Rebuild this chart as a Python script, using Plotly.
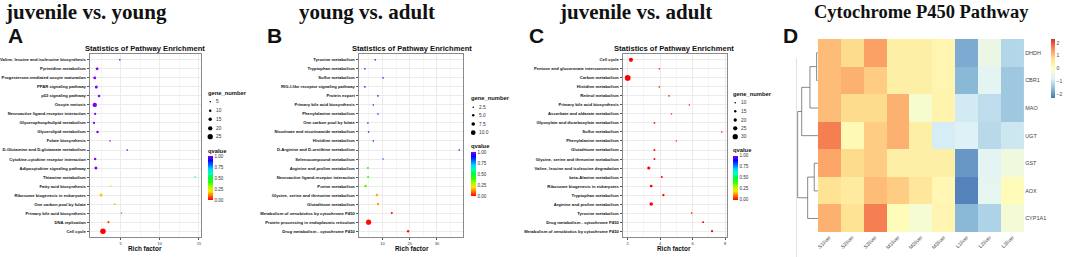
import colorsys
import plotly.graph_objects as go

W, H = 1065, 257

# ---------------- Panel A: juvenile vs. young ----------------
a_terms = ["Valine, leucine and isoleucine biosynthesis", "Pyrimidine metabolism",
           "Progesterone-mediated oocyte maturation", "PPAR signaling pathway", "p53 signaling pathway",
           "Oocyte meiosis", "Neuroactive ligand-receptor interaction", "Glycerophospholipid metabolism",
           "Glycerolipid metabolism", "Folate biosynthesis", "D-Glutamine and D-glutamate metabolism",
           "Cytokine-cytokine receptor interaction", "Adipocytokine signaling pathway", "Thiamine metabolism",
           "Fatty acid biosynthesis", "Ribosome biogenesis in eukaryotes", "One carbon pool by folate",
           "Primary bile acid biosynthesis", "DNA replication", "Cell cycle"]
a_rich = [4.9, 2.0, 1.7, 1.9, 2.25, 1.7, 1.75, 1.6, 2.05, 3.65, 5.85, 1.75, 1.85, 14.5, 3.75, 2.5, 4.25, 5.1, 3.45, 2.75]
a_genes = [2, 12, 12, 13, 10, 20, 9, 9, 10, 3, 2, 10, 13, 2, 4, 13, 5, 3, 8, 26]
a_q = [0.97, 1.0, 1.0, 1.0, 1.0, 1.0, 1.0, 1.0, 1.0, 0.98, 0.95, 1.0, 1.0, 0.62, 0.3, 0.17, 0.14, 0.1, 0.06, 0.0]
a_size_legend = [5, 10, 15, 20, 25]

# ---------------- Panel B: young vs. adult ----------------
b_terms = ["Tyrosine metabolism", "Tryptophan metabolism", "Sulfur metabolism",
           "RIG-I-like receptor signaling pathway", "Protein export", "Primary bile acid biosynthesis",
           "Phenylalanine metabolism", "One carbon pool by folate", "Nicotinate and nicotinamide metabolism",
           "Histidine metabolism", "D-Arginine and D-ornithine metabolism", "Selenocompound metabolism",
           "Arginine and proline metabolism", "Neuroactive ligand-receptor interaction", "Purine metabolism",
           "Glycine, serine and threonine metabolism", "Glutathione metabolism",
           "Metabolism of xenobiotics by cytochrome P450", "Protein processing in endoplasmic reticulum",
           "Drug metabolism - cytochrome P450"]
b_rich = [7.3, 3.5, 10.2, 3.5, 8.3, 6.6, 8.3, 4.6, 4.85, 6.6, 38.2, 10.2, 4.6, 4.7, 3.75, 7.9, 8.3, 13.4, 4.85, 19.4]
b_genes = [2, 2, 1, 2, 3, 1, 3, 1, 2, 2, 1, 1, 4, 4, 5, 5, 5, 4, 11, 5]
b_q = [0.95, 0.93, 0.85, 0.95, 0.95, 0.88, 0.95, 0.9, 0.92, 0.95, 0.95, 0.8, 0.42, 0.42, 0.38, 0.15, 0.15, 0.02, 0.01, 0.02]
b_size_legend = [2.5, 5.0, 7.5, 10.0]

# ---------------- Panel C: juvenile vs. adult ----------------
c_terms = ["Cell cycle", "Pentose and glucuronate interconversions", "Carbon metabolism",
           "Histidine metabolism", "Retinol metabolism", "Primary bile acid biosynthesis",
           "Ascorbate and aldarate metabolism", "Glyoxylate and dicarboxylate metabolism", "Sulfur metabolism",
           "Phenylalanine metabolism", "Glutathione metabolism", "Glycine, serine and threonine metabolism",
           "Valine, leucine and isoleucine degradation", "beta-Alanine metabolism",
           "Ribosome biogenesis in eukaryotes", "Tryptophan metabolism", "Arginine and proline metabolism",
           "Tyrosine metabolism", "Drug metabolism - cytochrome P450",
           "Metabolism of xenobiotics by cytochrome P450"]
c_rich = [2.2, 3.95, 2.0, 3.95, 4.55, 5.8, 4.7, 3.65, 7.8, 5.0, 3.65, 3.65, 3.3, 4.1, 3.45, 4.2, 3.45, 5.95, 6.65, 7.2]
c_genes = [24, 9, 32, 9, 9, 8, 8, 12, 7, 10, 13, 13, 19, 13, 17, 15, 21, 11, 13, 14]
c_q = [0.0, 0.03, 0.0, 0.03, 0.02, 0.04, 0.03, 0.02, 0.04, 0.03, 0.01, 0.01, 0.0, 0.01, 0.0, 0.0, 0.0, 0.01, 0.0, 0.0]
c_size_legend = [10, 15, 20, 25, 30]

q_ticks = [0.0, 0.25, 0.5, 0.75, 1.0]

# ---------------- Panel D: heatmap ----------------
hm_rows = ["DHDH", "CBR1", "MAO", "UGT", "GST", "AOX", "CYP1A1"]
hm_cols = ["S1liver", "S2liver", "S3liver", "M1liver", "M2liver", "M3liver", "L1liver", "L2liver", "L3liver"]
hm_vals = [
    [1.1, 0.8, 1.35, 0.4, 0.4, 0.25, -1.75, -0.5, -1.2],
    [1.1, 1.2, 0.95, 0.4, 0.4, 0.25, -1.6, -0.7, -1.4],
    [1.1, 0.8, 0.8, 1.2, -0.2, 0.3, -0.9, -1.1, -1.4],
    [1.65, 0.15, 0.95, 1.2, 0.4, -0.85, -0.8, -1.15, -0.95],
    [1.3, 0.8, 0.95, 0.4, 0.4, 0.4, -1.95, -0.7, -0.4],
    [0.7, 0.5, 1.1, 0.95, 0.6, 0.2, -2.15, -0.65, 0.1],
    [1.2, 0.7, 1.65, 0.1, -0.25, 0.25, -1.6, -1.25, -0.3],
]
hm_ticks = [-2, -1, 0, 1, 2]
# row dendrogram linkage (scipy style: leaves 0-6, merged clusters 7..)
row_linkage = [(0, 1, 1.3), (7, 2, 8.0), (8, 3, 16.3), (4, 5, 3.7), (10, 6, 10.3), (9, 11, 20.3)]

# ---------------- styles ----------------
SANS = "Liberation Sans"
SERIF = "Liberation Serif"
q_scale = []
for i in range(11):
    t = i / 10
    r, g, b = colorsys.hsv_to_rgb(t * 0.75, 1, 1)
    q_scale.append([t, f"rgb({int(r*255)},{int(g*255)},{int(b*255)})"])
hm_scale = [[i / 6, c] for i, c in enumerate(
    ["#4575B4", "#91BFDB", "#E0F3F8", "#FFFFBF", "#FEE090", "#FC8D59", "#D73027"])]


def px_x(p):
    return p / W


def px_y(p):
    return 1 - p / H


def sizer(v0, d0, v1, d1):
    def f(v):
        return max(1.6, d0 + (v - v0) * (d1 - d0) / (v1 - v0))
    return f


size_a = sizer(5, 1.5, 25, 5.3)
size_b = sizer(2.5, 1.4, 10, 4.7)
size_c = sizer(10, 1.4, 30, 5.3)

fig = go.Figure()

panels = [
    (a_terms, a_rich, a_genes, a_q, size_a, (87, 199), [1.05, 15.3], 5, "", "coloraxis"),
    (b_terms, b_rich, b_genes, b_q, size_b, (357, 462), [1.2, 39.7], 10, "2", "coloraxis2"),
    (c_terms, c_rich, c_genes, c_q, size_c, (622, 727), [1.69, 8.14], 2, "3", "coloraxis3"),
]

layout = dict(width=W, height=H, margin=dict(l=0, r=0, t=0, b=0),
              paper_bgcolor="white", plot_bgcolor="white", showlegend=False,
              font=dict(family=SANS, color="#111"))

for terms, rich, genes, q, sfn, (x0, x1), xr, dt, sfx, cax in panels:
    fig.add_trace(go.Scatter(
        x=rich, y=terms, mode="markers",
        marker=dict(size=[sfn(g) for g in genes], color=q, coloraxis=cax, line=dict(width=0), opacity=1),
        xaxis="x" + sfx, yaxis="y" + sfx, hoverinfo="skip"))
    layout["xaxis" + sfx] = dict(
        domain=[px_x(x0), px_x(x1)], range=xr, anchor="y" + sfx,
        tickmode="linear", tick0=0, dtick=dt,
        showgrid=True, gridcolor="#EBEBEB", gridwidth=0.7, zeroline=False,
        minor=dict(dtick=dt / 2, showgrid=True, gridcolor="#F5F5F5", gridwidth=0.5),
        showline=True, mirror=True, linecolor="#8A8A8A", linewidth=1,
        ticks="outside", ticklen=2, tickwidth=0.6, tickcolor="#555",
        tickfont=dict(size=4, color="#333", family=SANS))
    layout["yaxis" + sfx] = dict(
        domain=[px_y(237), px_y(54)], anchor="x" + sfx, type="category",
        categoryorder="array", categoryarray=terms[::-1], range=[-0.65, 19.65],
        showgrid=True, gridcolor="#EBEBEB", gridwidth=0.7, zeroline=False,
        showline=True, mirror=True, linecolor="#8A8A8A", linewidth=1,
        ticks="outside", ticklen=2, tickwidth=0.6, tickcolor="#555",
        tickfont=dict(size=4.2, color="#111", family=SANS, weight="bold"))

# colour axes for q-value colorbars
cb_pos = {"coloraxis": (205.5, 156, 44), "coloraxis2": (469.3, 152.3, 44), "coloraxis3": (732.7, 155.7, 44)}
for cax, (cx, cy, ln) in cb_pos.items():
    layout[cax] = dict(
        colorscale=q_scale, cmin=0, cmax=1,
        colorbar=dict(x=px_x(cx), xanchor="left", y=px_y(cy), yanchor="top",
                      len=ln, lenmode="pixels", thickness=4.5, thicknessmode="pixels",
                      xpad=0, ypad=0, outlinewidth=0, ticks="", ticklen=0,
                      tickvals=q_ticks, ticktext=[f"{t:.2f}" for t in q_ticks],
                      tickfont=dict(size=4.6, color="#333", family=SANS)))

# heatmap
fig.add_trace(go.Heatmap(z=hm_vals, x=hm_cols, y=hm_rows, coloraxis="coloraxis4",
                         xaxis="x4", yaxis="y4", hoverinfo="skip"))
layout["coloraxis4"] = dict(
    colorscale=hm_scale, cmin=-2.3, cmax=2.3,
    colorbar=dict(x=px_x(1051.7), xanchor="left", y=px_y(39), yanchor="top",
                  len=59, lenmode="pixels", thickness=4, thicknessmode="pixels",
                  xpad=0, ypad=0, outlinewidth=0, ticks="", tickvals=hm_ticks,
                  ticktext=[str(t) if t >= 0 else "\u2212" + str(-t) for t in hm_ticks],
                  tickfont=dict(size=5, color="#444", family=SANS)))
layout["xaxis4"] = dict(domain=[px_x(818), px_x(1025)], anchor="y4", showgrid=False, zeroline=False,
                        ticks="", tickangle=-45, tickfont=dict(size=5.2, color="#444", family=SANS),
                        showline=False)
layout["yaxis4"] = dict(domain=[px_y(232.3), px_y(39)], anchor="x4", side="right", autorange="reversed",
                        showgrid=False, zeroline=False, ticks="",
                        tickfont=dict(size=5.5, color="#444", family=SANS), showline=False)

# dendrogram from linkage
pos = {i: float(i) for i in range(len(hm_rows))}
hgt = {i: 0.0 for i in range(len(hm_rows))}
dx, dy = [], []
for k, (l, r, h) in enumerate(row_linkage):
    nid = len(hm_rows) + k
    dx += [hgt[l], h, h, hgt[r], None]
    dy += [pos[l], pos[l], pos[r], pos[r], None]
    pos[nid] = (pos[l] + pos[r]) / 2
    hgt[nid] = h
fig.add_trace(go.Scatter(x=dx, y=dy, mode="lines", line=dict(color="#6A6A6A", width=0.8),
                         xaxis="x5", yaxis="y5", hoverinfo="skip"))
layout["xaxis5"] = dict(domain=[px_x(796), px_x(818)], range=[22, 0], anchor="y5", visible=False)
layout["yaxis5"] = dict(domain=[px_y(232.3), px_y(39)], range=[6.5, -0.5], anchor="x5", visible=False)

annotations = []
shapes = []


def text(x, y, s, size, family=SANS, bold=False, xanchor="center", color="#111"):
    annotations.append(dict(x=px_x(x), y=px_y(y), xref="paper", yref="paper", text=s, showarrow=False,
                            xanchor=xanchor, yanchor="middle", borderpad=0,
                            font=dict(size=size, family=family, color=color,
                                      weight="bold" if bold else "normal")))


# titles
text(83, 11.6, "juvenile vs. young", 21, SERIF, True)
text(365.6, 11.6, "young vs. adult", 21, SERIF, True)
text(635, 11.6, "juvenile vs. adult", 21, SERIF, True)
text(922, 11.6, "Cytochrome P450 Pathway", 18.5, SERIF, True)
# panel letters
text(4, 36, "A", 21, SANS, True, "left")
text(264, 36, "B", 21, SANS, True, "left")
text(527, 36, "C", 21, SANS, True, "left")
text(782, 36, "D", 21, SANS, True, "left")
# subtitles and x titles
for cx in (142.5, 410.5, 674):
    text(cx, 48, "Statistics of Pathway Enrichment", 7.6, SANS, True)
    text(cx, 248, "Rich factor", 6.4, SANS, True)

# size legends + q-value legend titles
legends = [
    (204.5, 93, [101.7, 110.7, 119.3, 128.3, 136.7], a_size_legend, size_a, 151.3, "{:g}"),
    (468.5, 98, [107.3, 115.3, 124.0, 132.7], b_size_legend, size_b, 145.5, "{:.1f}"),
    (731.5, 94.3, [102.7, 111.3, 120.0, 128.3, 136.7], c_size_legend, size_c, 150.0, "{:g}"),
]
for lx, ty, ys, vals, sfn, qy, fmt in legends:
    text(lx, ty, "gene_number", 5.8, SANS, True, "left")
    text(lx, qy, "qvalue", 5.8, SANS, True, "left")
    for yy, v in zip(ys, vals):
        d = sfn(v)
        shapes.append(dict(type="circle", xref="paper", yref="paper", xsizemode="pixel", ysizemode="pixel",
                           xanchor=px_x(lx + 3.5), yanchor=px_y(yy), x0=-d / 2, x1=d / 2, y0=-d / 2, y1=d / 2,
                           fillcolor="black", line=dict(width=0)))
        text(lx + 8, yy, fmt.format(v), 4.8, SANS, False, "left", "#333")

# faint frame line at left of panel D
shapes.append(dict(type="line", xref="paper", yref="paper", x0=px_x(796.5), x1=px_x(796.5),
                   y0=px_y(58), y1=0, line=dict(color="#E2E2E2", width=1)))

layout["annotations"] = annotations
layout["shapes"] = shapes
fig.update_layout(**layout)
fig.write_html("out.html", config={"displayModeBar": False},
               post_script="document.body.style.margin='0';document.body.style.padding='0';"
                           "document.body.style.overflow='hidden';")
